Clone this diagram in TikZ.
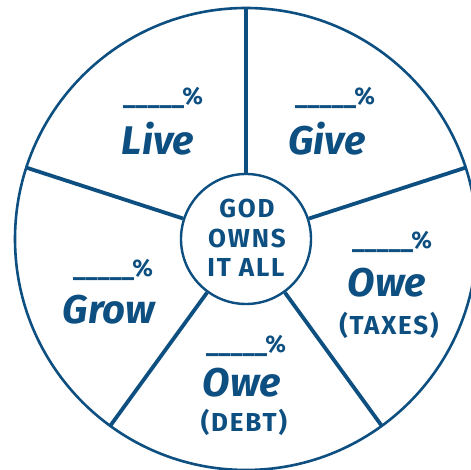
\documentclass[tikz,border=0pt]{standalone}
\usepackage{fontspec}
\setmainfont{Fira Sans}
\newfontfamily\widefont{Fira Sans}[LetterSpace=7]
\usepackage{tikz}
\definecolor{wheelblue}{HTML}{0D4F80}
\tikzset{
  rimline/.style={draw=wheelblue, line width=2.6pt},
  spokeline/.style={draw=wheelblue, line width=3.8pt},
  pct/.style={text=wheelblue, anchor=base, font=\fontsize{24}{24}\selectfont\bfseries},
  part/.style={text=wheelblue, anchor=base, font=\fontsize{40}{40}\selectfont\bfseries\itshape},
  note/.style={text=wheelblue, anchor=base, font=\fontsize{26}{26}\selectfont\widefont\bfseries},
  hub/.style={text=wheelblue, anchor=base, font=\fontsize{26}{26}\selectfont\widefont\bfseries}
}

\begin{document}
\begin{tikzpicture}[x=1pt,y=1pt]
      \useasboundingbox (-246,-231) rectangle (225,239);
      \clip (-246,-231) rectangle (225,239);
      \fill[white] (-246,-231) rectangle (225,239);
      % wheel
      \draw[rimline] (0,0) circle (231);
      \node[circle, draw=wheelblue, line width=2.4pt, minimum size=130pt, inner sep=0pt] (god) at (0,0) {};
      \foreach \a/\n in {90/top,18/right,306/lowright,234/lowleft,162/left}
        \coordinate (rim-\n) at (\a:231);
      \draw[spokeline] (god.90) -- (rim-top);
      \draw[spokeline] (god.18) -- (rim-right);
      \draw[spokeline] (god.306) -- (rim-lowright);
      \draw[spokeline] (god.234) -- (rim-lowleft);
      \draw[spokeline] (god.162) -- (rim-left);
      % hub text
      \node[hub] (god1) at (1,21) {GOD};
      \node[hub] (god2) at (1,-9) {OWNS};
      \node[hub] (god3) at (0,-38) {IT ALL};
      % Live
      \node[pct] (livepct) at (-83,134) {\_\_\_\_\_\%};
      \node[part] (live) at (-88,84) {Live};
      % Give
      \node[pct] (givepct) at (89,134) {\_\_\_\_\_\%};
      \node[part] (give) at (81,84) {Give};
      % Grow
      \node[pct] (growpct) at (-133,-38) {\_\_\_\_\_\%};
      \node[part] (grow) at (-137,-85) {Grow};
      % Owe (taxes)
      \node[pct] (taxpct) at (146,-10) {\_\_\_\_\_\%};
      \node[part] (taxowe) at (141,-58) {Owe};
      \node[note] (taxes) at (143,-96) {(TAXES)};
      % Owe (debt)
      \node[pct] (debtpct) at (0,-114) {\_\_\_\_\_\%};
      \node[part] (debtowe) at (-4,-158) {Owe};
      \node[note] (debt) at (-2,-193) {(DEBT)};
\end{tikzpicture}
\end{document}
